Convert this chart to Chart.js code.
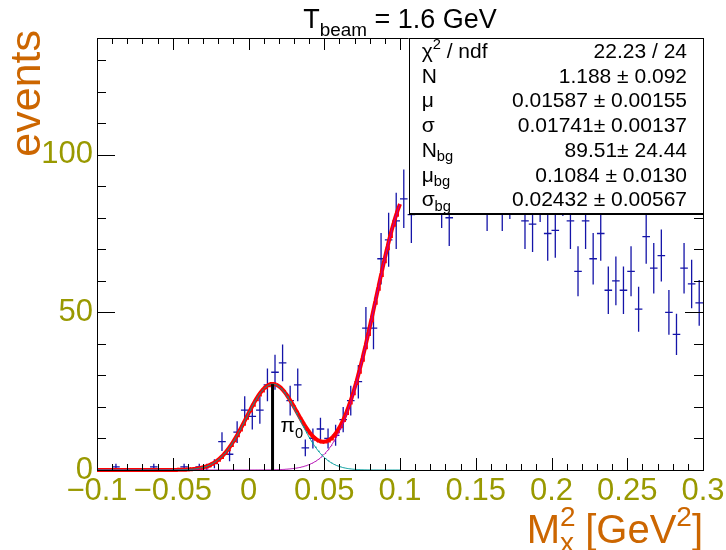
<!DOCTYPE html>
<html><head><meta charset="utf-8">
<script src="https://cdn.jsdelivr.net/npm/chart.js@4"></script>
<style>html,body{margin:0;padding:0;background:#fff;overflow:hidden}</style>
</head><body>
<canvas id="c" width="726" height="550"></canvas>
<script>
// ---- data ----
const binCenters = [
 -0.0975,-0.0925,-0.0875,-0.0825,-0.0775,-0.0725,-0.0675,-0.0625,-0.0575,-0.0525,
 -0.0475,-0.0425,-0.0375,-0.0325,-0.0275,-0.0225,-0.0175,-0.0125,-0.0075,-0.0025,
  0.0025, 0.0075, 0.0125, 0.0175, 0.0225, 0.0275, 0.0325, 0.0375, 0.0425, 0.0475,
  0.0525, 0.0575, 0.0625, 0.0675, 0.0725, 0.0775, 0.0825, 0.0875, 0.0925, 0.0975,
  0.1025, 0.1075, 0.1125, 0.1175, 0.1225, 0.1275, 0.1325, 0.1375, 0.1425, 0.1475,
  0.1525, 0.1575, 0.1625, 0.1675, 0.1725, 0.1775, 0.1825, 0.1875, 0.1925, 0.1975,
  0.2025, 0.2075, 0.2125, 0.2175, 0.2225, 0.2275, 0.2325, 0.2375, 0.2425, 0.2475,
  0.2525, 0.2575, 0.2625, 0.2675, 0.2725, 0.2775, 0.2825, 0.2875, 0.2925, 0.2975];
const binWidth = 0.005;
const counts = [
  0, 0, 1, 0, 0, 0, 0, 1, 0, 0,
  0, 1, 0, 1, 1, 2, 9, 5,12,19,
 17,19,27,31,34,22,27, 7,10,13,
 10,11,16,22,28,45,45,67,73,79,
 86,81,95,93,98,86,80,94,96,92,
 97,85,93,85,89,95,79,78,88,75,
 76,90,79,63,79,67,75,57,60,57,
 63,51,74,64,68,50,43,64,59,53];

// fit parameters (from the stats box)
const fitRange = [-0.1, 0.1];
const parN = 1.188, parMu = 0.01587, parSigma = 0.01741;
const parNbg = 89.51, parMuBg = 0.1084, parSigmaBg = 0.02432;

// axes
const xMin = -0.1, xMax = 0.3, yMin = 0, yMax = 137;
const xTickValues = [-0.1,-0.05,0,0.05,0.1,0.15,0.2,0.25,0.3];
const xTickLabels = ['\u22120.1','\u22120.05','0','0.05','0.1','0.15','0.2','0.25','0.3'];
const yTickValues = [0,50,100];
const yTickLabels = ['0','50','100'];

const statsRows = [
  [[['\u03c7',''],['2','sup'],[' / ndf','']], '22.23 / 24'],
  [[['N','']], '1.188 \u00b1 0.092'],
  [[['\u03bc','']], '0.01587 \u00b1 0.00155'],
  [[['\u03c3','']], '0.01741\u00b1 0.00137'],
  [[['N',''],['bg','sub']], '89.51\u00b1 24.44'],
  [[['\u03bc',''],['bg','sub']], '0.1084 \u00b1 0.0130'],
  [[['\u03c3',''],['bg','sub']], '0.02432 \u00b1 0.00567']
];

// ---- fit functions ----
function sig(x){ return parN/(Math.sqrt(2*Math.PI)*parSigma)*Math.exp(-0.5*Math.pow((x-parMu)/parSigma,2)); }
function bg(x){ return parNbg*Math.exp(-0.5*Math.pow((x-parMuBg)/parSigmaBg,2)); }
function sample(f){ const out=[]; const n=400; for(let k=0;k<=n;k++){ const x=fitRange[0]+(fitRange[1]-fitRange[0])*k/n; out.push({x, y:f(x)}); } return out; }

const FONT = '"Liberation Sans", Arial, Helvetica, sans-serif';
const ORANGE = '#cc6600', OLIVE = '#999900';

function drawRich(ctx, parts, x, y, fs, align, subShift){
  const small = fs*0.7;
  const sd = subShift===undefined ? 0.3 : subShift;
  const widths = parts.map(([t,m]) => { ctx.font = (m? small: fs)+'px '+FONT; return ctx.measureText(t).width; });
  let total = widths.reduce((a,b)=>a+b,0);
  let cx = align==='right' ? x-total : align==='center' ? x-total/2 : x;
  parts.forEach(([t,m],i)=>{
    ctx.font = (m? small: fs)+'px '+FONT;
    const dy = m==='sub' ? fs*sd : m==='sup' ? -fs*0.42 : 0;
    ctx.fillText(t, cx, y+dy);
    cx += widths[i];
  });
}

const rootPlugin = {
  id:'root',
  beforeDatasetsDraw(chart){
    const {ctx, chartArea:a, scales:{x,y}} = chart;
    const meta = chart.getDatasetMeta(0);
    ctx.save();
    ctx.beginPath(); ctx.rect(a.left,a.top,a.width,a.height); ctx.clip();
    ctx.strokeStyle = '#1414a8'; ctx.lineWidth = 1.3;
    meta.data.forEach((pt,i)=>{
      const v = counts[i]; if(!v) return;
      const e = Math.sqrt(v);
      const hl = x.getPixelForValue(binCenters[i]-binWidth/2), hr = x.getPixelForValue(binCenters[i]+binWidth/2);
      ctx.beginPath();
      ctx.moveTo(hl, pt.y); ctx.lineTo(hr, pt.y);
      ctx.moveTo(pt.x, y.getPixelForValue(v+e)); ctx.lineTo(pt.x, y.getPixelForValue(v-e));
      ctx.stroke();
    });
    ctx.restore();
  },
  afterDatasetsDraw(chart){
    const {ctx, chartArea:a, scales:{x,y}} = chart;
    ctx.save();
    ctx.strokeStyle='#000'; ctx.lineWidth=1;
    ctx.beginPath();
    for(let k=0;k<=40;k++){
      const v = xMin + k*0.01; const px = Math.round(x.getPixelForValue(v))+0.5;
      const len = (k%5===0)? 12: 6;
      ctx.moveTo(px, a.bottom); ctx.lineTo(px, a.bottom-len);
      ctx.moveTo(px, a.top); ctx.lineTo(px, a.top+len);
    }
    for(let v=0; v<=yMax; v+=10){
      const py = Math.round(y.getPixelForValue(v))+0.5;
      const len = (v%50===0)? 18: 9;
      ctx.moveTo(a.left, py); ctx.lineTo(a.left+len, py);
      ctx.moveTo(a.right, py); ctx.lineTo(a.right-len, py);
    }
    ctx.stroke();
    ctx.strokeRect(Math.round(a.left)+0.5, Math.round(a.top)+0.5, Math.round(a.width), Math.round(a.height));
    ctx.fillStyle='#000';
    ctx.textBaseline='alphabetic';
    const lx = x.getPixelForValue(parMu+0.0053), ly = y.getPixelForValue(12);
    drawRich(ctx, [['\u03c0',''],['0','sub']], lx, ly, 21, 'left');
    ctx.restore();
  },
  afterDraw(chart){
    const {ctx, chartArea:a, scales:{x,y}} = chart;
    ctx.save();
    // stats box
    const bx = x.getPixelForValue(0.1057), by = a.top, bw = a.right - bx, bh = 175;
    ctx.fillStyle='#fff'; ctx.fillRect(bx, by, bw, bh);
    ctx.strokeStyle='#000'; ctx.lineWidth=1;
    ctx.strokeRect(Math.round(bx)+0.5, Math.round(by)+0.5, Math.round(bw), Math.round(bh));
    ctx.beginPath(); ctx.moveTo(bx, Math.round(by+bh)+1.5); ctx.lineTo(bx+bw, Math.round(by+bh)+1.5); ctx.stroke();
    ctx.fillStyle='#000'; ctx.textBaseline='alphabetic';
    statsRows.forEach((row,i)=>{
      const base = by + 20 + i*24.7;
      drawRich(ctx, row[0], bx+13, base, 21, 'left', 0.22);
      ctx.font = '21px '+FONT; ctx.textAlign='right';
      ctx.fillText(row[1], a.right-16, base);
      ctx.textAlign='left';
    });
    // title
    drawRich(ctx, [['T',''],['beam','sub'],[' = 1.6 GeV','']], (a.left+a.right)/2, 28, 27, 'center');
    // tick labels
    ctx.fillStyle = OLIVE; ctx.font = '31px '+FONT; ctx.textAlign='center'; ctx.textBaseline='alphabetic';
    xTickValues.forEach((v,i)=>{ ctx.fillText(xTickLabels[i], x.getPixelForValue(v), 500); });
    ctx.textAlign='right'; ctx.textBaseline='middle';
    yTickValues.forEach((v,i)=>{ ctx.fillText(yTickLabels[i], a.left-4, y.getPixelForValue(v)); });
    // axis titles
    ctx.fillStyle = ORANGE; ctx.textBaseline='alphabetic'; ctx.textAlign='left';
    const fs = 40, sm = 28;
    ctx.font = fs+'px '+FONT; const wM = ctx.measureText('M').width, wG = ctx.measureText(' [GeV').width, wB = ctx.measureText(']').width;
    ctx.font = sm+'px '+FONT; const wx = ctx.measureText('x').width, w2 = ctx.measureText('2').width;
    let cx = a.right - (wM + wx + wG + w2 + wB);
    const base = 543;
    ctx.font = fs+'px '+FONT; ctx.fillText('M', cx, base); cx += wM;
    ctx.font = sm+'px '+FONT; ctx.fillText('x', cx, base+9); ctx.fillText('2', cx, base-17); cx += wx;
    ctx.font = fs+'px '+FONT; ctx.fillText(' [GeV', cx, base); cx += wG;
    ctx.font = sm+'px '+FONT; ctx.fillText('2', cx, base-17); cx += w2;
    ctx.font = fs+'px '+FONT; ctx.fillText(']', cx, base);
    ctx.translate(40, a.top-8); ctx.rotate(-Math.PI/2);
    ctx.font = '43px '+FONT; ctx.textAlign='right';
    ctx.fillText('events', 0, 0);
    ctx.restore();
  }
};

new Chart(document.getElementById('c'), {
  type:'scatter',
  data:{ datasets:[
    { label:'data', data: binCenters.map((c,i)=>({x:c, y:counts[i]})), pointRadius:0, showLine:false, order:5 },
    { label:'signal', data: sample(sig), showLine:true, pointRadius:0, borderColor:'#009c9c', borderWidth:1, order:1, clip:false },
    { label:'background', data: sample(bg), showLine:true, pointRadius:0, borderColor:'#b000b0', borderWidth:1, order:2, clip:false },
    { label:'total', data: sample(x=>sig(x)+bg(x)), showLine:true, pointRadius:0, borderColor:'#ff0000', borderWidth:4, order:3, clip:false },
    { label:'peak', data:[{x:parMu,y:0},{x:parMu,y:sig(parMu)}], showLine:true, pointRadius:0, borderColor:'#000', borderWidth:3, order:0, clip:false }
  ]},
  options:{
    responsive:false, animation:false, devicePixelRatio:1,
    layout:{ padding:{ left:97, right:23, top:38, bottom:80 } },
    scales:{
      x:{ type:'linear', min:xMin, max:xMax, display:false },
      y:{ type:'linear', min:yMin, max:yMax, display:false }
    },
    plugins:{ legend:{display:false}, tooltip:{enabled:false} },
    elements:{ line:{ tension:0 } }
  },
  plugins:[rootPlugin]
});
</script>
</body></html>
